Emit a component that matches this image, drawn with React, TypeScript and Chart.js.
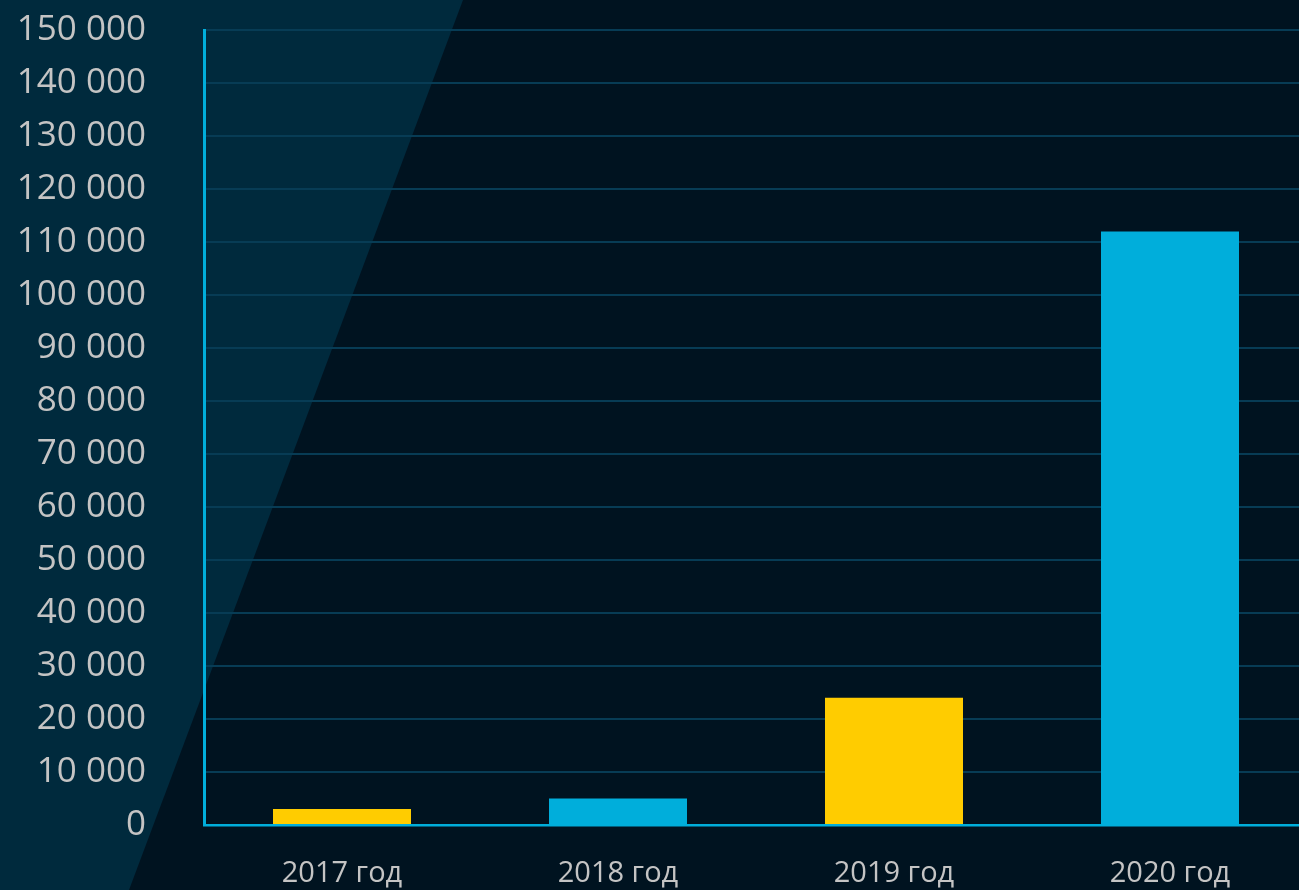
import React, { useEffect, useRef } from "react";
import { Chart, registerables } from "chart.js";

Chart.register(...registerables);

const categories: string[] = ["2017 год", "2018 год", "2019 год", "2020 год"];
const values: number[] = [3000, 5000, 24000, 112000];
const barColors: string[] = ["#ffcc00", "#00aedb", "#ffcc00", "#00aedb"];
const yMin = 0;
const yMax = 150000;
const yStep = 10000;

const fmt = (v: number) => String(v).replace(/\B(?=(\d{3})+(?!\d))/g, " ");

const bgPlugin = {
  id: "bgPlugin",
  beforeDraw(chart: any) {
    const { ctx, width, height } = chart;
    ctx.save();
    ctx.fillStyle = "#001320";
    ctx.fillRect(0, 0, width, height);
    ctx.fillStyle = "#002a3d";
    ctx.beginPath();
    ctx.moveTo(0, 0);
    ctx.lineTo(463, 0);
    ctx.lineTo(129, height);
    ctx.lineTo(0, height);
    ctx.closePath();
    ctx.fill();
    ctx.restore();
  },
};

export default function App() {
  const ref = useRef<HTMLCanvasElement | null>(null);
  useEffect(() => {
    if (!ref.current) return;
    const chart = new Chart(ref.current, {
      type: "bar",
      data: {
        labels: categories,
        datasets: [
          {
            data: values,
            backgroundColor: barColors,
            borderWidth: 0,
            barPercentage: 0.5,
            categoryPercentage: 1,
          },
        ],
      },
      options: {
        responsive: false,
        animation: false,
        devicePixelRatio: 1,
        layout: { padding: { top: 30, right: 2, left: 0, bottom: 0 } },
        plugins: { legend: { display: false }, tooltip: { enabled: false } },
        scales: {
          x: {
            grid: { display: false, drawTicks: false },
            border: { display: true, color: "#00aedb", width: 2.5 },
            ticks: {
              color: "#c4c4c4",
              font: { family: "Open Sans", size: 29 },
              padding: 31,
            },
            afterFit(scale: any) {
              scale.height = 65;
              scale.paddingLeft = 0;
              scale.paddingRight = 0;
            },
          },
          y: {
            min: yMin,
            max: yMax,
            grid: { color: "#073c55", lineWidth: 2, drawTicks: false },
            border: { display: true, color: "#00aedb", width: 3 },
            ticks: {
              stepSize: yStep,
              color: "#c4c4c4",
              font: { family: "Open Sans", size: 35 },
              padding: 58,
              callback: (v: any) => fmt(Number(v)),
            },
            afterFit(scale: any) {
              scale.width = 204;
              scale.paddingTop = 0;
              scale.paddingBottom = 0;
            },
          },
        },
      },
      plugins: [bgPlugin],
    });
    return () => chart.destroy();
  }, []);
  return (
    <div style={{ position: "fixed", left: 0, top: 0, width: 1299, height: 890, overflow: "hidden", background: "#001320" }}>
      <canvas ref={ref} width={1310} height={890} style={{ display: "block" }} />
    </div>
  );
}
